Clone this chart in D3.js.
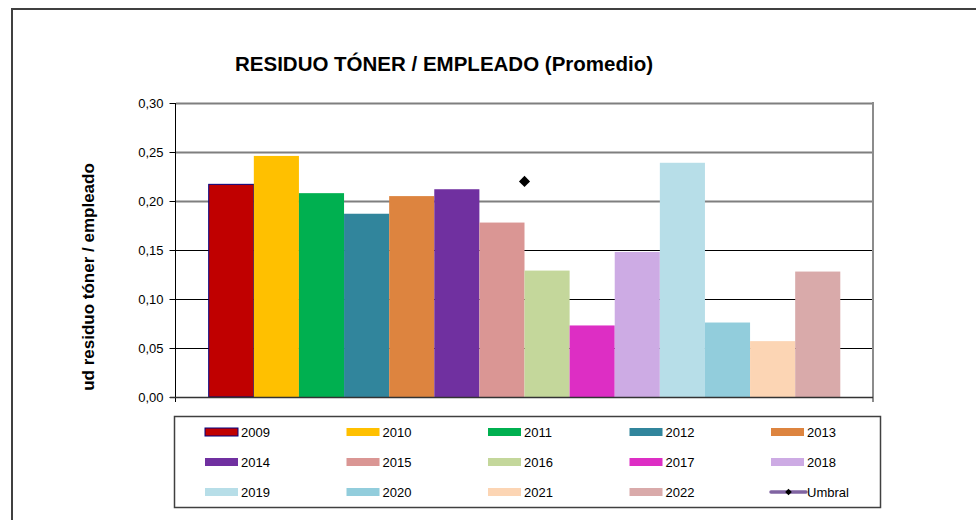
<!DOCTYPE html>
<html>
<head>
  <meta charset="utf-8">
  <style>
  body {
    margin: 0;
    background: #ffffff;
    font-family: "Liberation Sans", Arial, sans-serif;
  }
  .axis .domain {
    display: none;
  }
  .axis text {
    font-family: "Liberation Sans", Arial, sans-serif;
    font-size: 13px;
    fill: #000000;
  }
  .legend text {
    font-size: 13px;
  }
  </style>
</head>
<body>
  <div id="chart"></div>

  <script src="https://d3js.org/d3.v7.min.js"></script>
  <script>
  // data
  const years = ["2009", "2010", "2011", "2012", "2013", "2014", "2015",
    "2016", "2017", "2018", "2019", "2020", "2021", "2022"];
  const toner = [0.217, 0.246, 0.208, 0.187, 0.205, 0.212, 0.178,
    0.129, 0.073, 0.148, 0.239, 0.076, 0.057, 0.128];
  const umbral = [0.22];
  const yTicks = [0, 0.05, 0.10, 0.15, 0.20, 0.25, 0.30];
  const category = ["Promedio"];

  const colors = ["#C00000", "#FFC000", "#00B050", "#31859C", "#DD843F", "#7030A0", "#DA9694",
    "#C4D79B", "#DD2EC4", "#CDABE4", "#B7DEE8", "#92CDDC", "#FCD5B4", "#D9AAAA"];

  const W = 976, H = 520;
  const plot = {left: 176, right: 873, top: 103, bottom: 397};

  const svg = d3.select("#chart").append("svg")
      .attr("width", W)
      .attr("height", H);

  // outer frame
  svg.append("rect")
      .attr("x", 12)
      .attr("y", 9)
      .attr("width", W + 10)
      .attr("height", H + 10)
      .attr("fill", "none")
      .attr("stroke", "#404040")
      .attr("stroke-width", 2);

  // title
  svg.append("text")
      .attr("x", 444)
      .attr("y", 71)
      .attr("text-anchor", "middle")
      .style("font-size", "20.5px")
      .style("font-weight", "bold")
      .text("RESIDUO TÓNER / EMPLEADO (Promedio)");

  // y axis title
  svg.append("text")
      .attr("transform", "translate(94, 277) rotate(-90)")
      .attr("text-anchor", "middle")
      .style("font-size", "17px")
      .style("font-weight", "bold")
      .text("ud residuo tóner / empleado");

  const y = d3.scaleLinear()
    .domain([0, 0.30])
    .range([plot.bottom, plot.top]);

  // gap between groups is ~1.45 bar widths (excel gap width)
  const gap = 1.45;
  const xCat = d3.scaleBand()
    .domain(category)
    .range([plot.left, plot.right])
    .paddingInner(0)
    .paddingOuter(gap / (2 * years.length));

  const x = d3.scaleBand()
    .domain(years)
    .range([xCat(category[0]), xCat(category[0]) + xCat.bandwidth()]);

  const es = d3.formatLocale({decimal: ",", thousands: ".", grouping: [3], currency: ["", "€"]});
  const fmt = es.format(".2f");

  // gridlines
  svg.append("g")
    .selectAll("line")
    .data(yTicks)
    .join("line")
      .attr("x1", plot.left)
      .attr("x2", plot.right)
      .attr("y1", d => Math.round(y(d)) + 0.5)
      .attr("y2", d => Math.round(y(d)) + 0.5)
      .attr("stroke", d => d >= 0.20 ? "#7f7f7f" : "#000000")
      .attr("stroke-width", d => d >= 0.20 ? 2 : 1);

  // bars
  svg.append("g")
    .selectAll("rect")
    .data(years)
    .join("rect")
      .attr("x", d => x(d))
      .attr("y", (d, i) => y(toner[i]))
      .attr("width", x.bandwidth())
      .attr("height", (d, i) => plot.bottom - y(toner[i]))
      .attr("fill", (d, i) => colors[i])
      .attr("stroke", (d, i) => i === 0 ? "#000080" : "none")
      .attr("stroke-width", 1);

  // plot frame: right side grey
  svg.append("line")
      .attr("x1", plot.right).attr("x2", plot.right)
      .attr("y1", plot.top - 1).attr("y2", plot.bottom + 5)
      .attr("stroke", "#8c8c8c")
      .attr("stroke-width", 2);

  // y axis
  const yAxis = d3.axisLeft(y)
    .tickValues(yTicks)
    .tickSize(6)
    .tickPadding(6)
    .tickFormat(fmt);

  svg.append("g")
      .attr("class", "y axis")
      .attr("transform", "translate(" + (plot.left - 0.5) + ",0)")
      .call(yAxis)
      .call(g => g.selectAll(".tick line").attr("stroke", "#000"));

  svg.append("line")
      .attr("x1", plot.left - 0.5).attr("x2", plot.left - 0.5)
      .attr("y1", plot.top).attr("y2", plot.bottom + 5)
      .attr("stroke", "#000");

  // x axis (category axis, no labels)
  svg.append("line")
      .attr("x1", plot.left - 6).attr("x2", plot.right)
      .attr("y1", plot.bottom + 0.5).attr("y2", plot.bottom + 0.5)
      .attr("stroke", "#333333")
      .attr("stroke-width", 1.5);

  // umbral point
  svg.append("g")
    .selectAll("path")
    .data(umbral)
    .join("path")
      .attr("d", d3.symbol().type(d3.symbolSquare).size(62))
      .attr("transform", d => "translate(" + (xCat(category[0]) + xCat.bandwidth() / 2) + "," + y(d) + ") rotate(45)")
      .attr("fill", "#000");

  // legend
  const lg = {left: 174, top: 416, width: 706, height: 91};
  svg.append("rect")
      .attr("x", lg.left + 0.5)
      .attr("y", lg.top + 0.5)
      .attr("width", lg.width)
      .attr("height", lg.height)
      .attr("fill", "#fff")
      .attr("stroke", "#404040")
      .attr("stroke-width", 1.5);

  const legendItems = years.concat(["Umbral"]);
  const colX = d3.scaleLinear().domain([0, 4]).range([lg.left + 31, lg.left + 31 + 4 * 141.5]);
  const rowY = d3.scaleLinear().domain([0, 2]).range([lg.top + 16, lg.top + 76]);

  const item = svg.append("g")
      .attr("class", "legend")
    .selectAll("g")
    .data(legendItems)
    .join("g")
      .attr("transform", (d, i) => "translate(" + colX(i % 5) + "," + rowY(Math.floor(i / 5)) + ")");

  item.filter(d => d !== "Umbral").append("rect")
      .attr("x", 0)
      .attr("y", -4)
      .attr("width", 33)
      .attr("height", 8)
      .attr("fill", (d, i) => colors[i])
      .attr("stroke", (d, i) => i === 0 ? "#000080" : "none")
      .attr("stroke-width", 1);

  const um = item.filter(d => d === "Umbral");
  um.append("line")
      .attr("x1", 0).attr("x2", 35)
      .attr("y1", 0).attr("y2", 0)
      .attr("stroke", "#8064A2")
      .attr("stroke-width", 3.5)
      .attr("stroke-linecap", "round");
  um.append("path")
      .attr("d", d3.symbol().type(d3.symbolSquare).size(22))
      .attr("transform", "translate(17.5,0) rotate(45)")
      .attr("fill", "#000");

  item.append("text")
      .attr("x", 36)
      .attr("y", 0)
      .attr("dy", "0.36em")
      .text(d => d);
  </script>
</body>
</html>
